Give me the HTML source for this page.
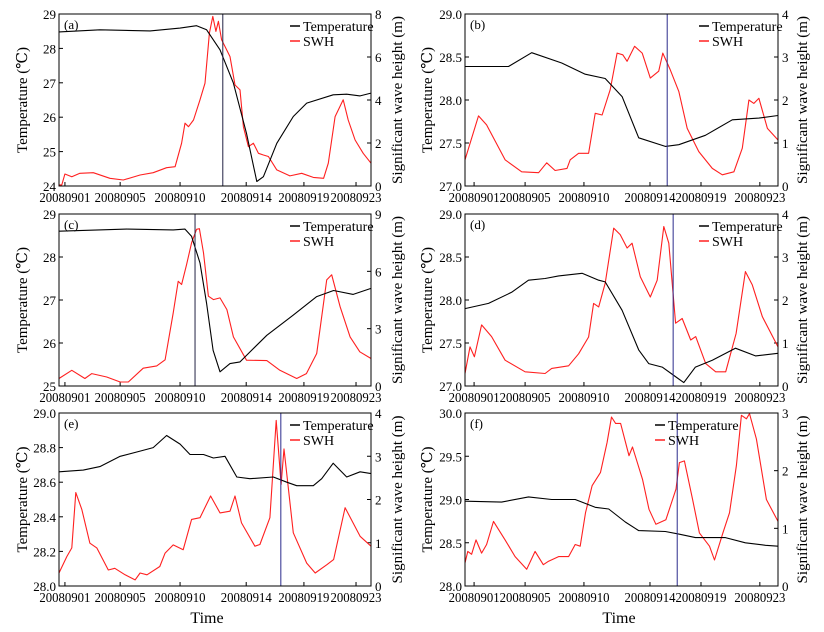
<!DOCTYPE html>
<html><head><meta charset="utf-8">
<style>
body{margin:0;background:#fff;}
svg{display:block;font-family:"Liberation Serif","DejaVu Serif",serif;}
</style></head>
<body>
<svg id="chart" width="824" height="632" viewBox="0 0 824 632"></svg>
<script>
const xTickLabels = ["20080901","20080905","20080910","20080914","20080919","20080923"];
const xTickPosLeft = [1.9,19.6,38.8,60,78.5,95.2];
const xTickPosRight = [2.9,19.2,38,59.1,75.4,94.2];
const panelLetters = ["(a)","(b)","(c)","(d)","(e)","(f)"];
const tempRanges = [[24,29],[27,29],[25,29],[27,29],[28,29],[28,30]];
const tempTicks = [[24,25,26,27,28,29],[27.0,27.5,28.0,28.5,29.0],[25,26,27,28,29],[27.0,27.5,28.0,28.5,29.0],[28.0,28.2,28.4,28.6,28.8,29.0],[28.0,28.5,29.0,29.5,30.0]];
const tempDecimals = [0,1,0,1,1,1];
const swhRanges = [[0,8],[0,4],[0,9],[0,4],[0,4],[0,3]];
const swhTicks = [[0,2,4,6,8],[0,1,2,3,4],[0,3,6,9],[0,1,2,3,4],[0,1,2,3,4],[0,1,2,3]];
const markerTimes = [52.5,64.6,43.6,66.5,71.1,67.8];

const tempA=[[0,28.48],[13.1,28.54],[29.2,28.51],[38.8,28.59],[44.1,28.66],[47.3,28.54],[51.6,27.96],[55.9,26.99],[60.1,25.53],[63.4,24.13],[65.5,24.27],[69.8,25.24],[75.1,26.02],[79.4,26.41],[87.9,26.65],[92.2,26.67],[96.5,26.62],[100,26.7]];
const swhA=[[0,0.05],[0.9,0.05],[1.9,0.56],[4.1,0.43],[6.7,0.59],[11,0.62],[16.3,0.36],[20.6,0.28],[26,0.51],[30.2,0.62],[34.5,0.85],[37.2,0.9],[39.3,1.99],[40.4,2.92],[41.5,2.76],[43.1,3.07],[45.2,4.01],[46.8,4.78],[48.2,7.11],[49.3,7.89],[50.3,7.19],[51.1,7.66],[52.1,6.8],[53.2,6.49],[54.8,6.02],[56.4,4.7],[58,4.47],[59.1,2.76],[60.7,1.83],[62.3,1.99],[63.9,1.52],[65.5,1.44],[67.1,1.37],[69.8,0.75],[74,0.47],[77.8,0.59],[81.5,0.4],[84.8,0.36],[86.3,1.06],[88.5,3.23],[91.1,4.01],[92.7,3.07],[94.9,2.14],[97.5,1.52],[100,1.06]];
const tempB=[[0,28.39],[13.9,28.39],[21.3,28.55],[30.9,28.43],[38.4,28.3],[44.8,28.25],[50.2,28.04],[55.5,27.56],[64,27.46],[68.3,27.48],[76.8,27.59],[85.4,27.77],[93.9,27.79],[100,27.82]];
const swhB=[[0,0.61],[4.3,1.63],[6.9,1.42],[12.8,0.61],[18.1,0.33],[23.5,0.31],[26.1,0.54],[28.8,0.36],[32.6,0.41],[33.6,0.61],[36.3,0.76],[39.5,0.76],[41.6,1.69],[43.8,1.65],[46.4,2.24],[48.6,3.09],[50.4,3.05],[51.8,2.9],[54.2,3.25],[56.6,3.09],[59.2,2.51],[61.9,2.67],[63.2,3.09],[65.6,2.7],[68.3,2.2],[71,1.34],[74.7,0.8],[79,0.41],[82.2,0.26],[85.9,0.33],[88.6,0.88],[90.7,2],[92.3,1.92],[93.9,2.04],[96.6,1.34],[100,1.07]];
const tempC=[[0,28.6],[21.7,28.65],[36.6,28.63],[40.4,28.65],[42.5,28.48],[45.2,27.86],[47.3,26.92],[49.4,25.83],[51.6,25.33],[54.8,25.52],[58,25.56],[61.2,25.79],[66.6,26.18],[75.1,26.65],[82.6,27.08],[88,27.22],[94.3,27.13],[100,27.27]];
const swhC=[[0,0.39],[4.1,0.82],[8.3,0.39],[10.5,0.65],[15.3,0.47],[19.6,0.21],[22.2,0.21],[27,0.93],[31.3,1.05],[34,1.37],[36.6,3.82],[38.2,5.48],[39.3,5.31],[40.9,6.36],[42.5,7.5],[44.1,8.2],[45,8.23],[46.3,6.97],[47.9,4.7],[49.5,4.52],[51.6,4.61],[53.8,4],[55.9,2.57],[60.1,1.35],[66.6,1.33],[70.8,0.82],[76.2,0.39],[79.3,0.65],[82.6,1.7],[85.8,5.55],[87.4,5.82],[90.1,4.15],[93.3,2.57],[96.4,1.79],[100,1.44]];
const tempD=[[0,27.9],[7.5,27.96],[14.9,28.09],[20.3,28.23],[25.6,28.25],[29.9,28.28],[37.4,28.31],[42.7,28.23],[44.8,28.21],[50.2,27.88],[55.5,27.42],[58.7,27.26],[63,27.22],[67.2,27.11],[69.9,27.04],[73.6,27.22],[79,27.3],[86.4,27.44],[92.8,27.35],[100,27.38]];
const swhD=[[0,0.29],[1.6,0.91],[3,0.68],[5.3,1.42],[8.5,1.15],[12.8,0.6],[19.2,0.33],[25.6,0.29],[27.7,0.41],[33.1,0.47],[36.3,0.75],[39.5,1.14],[41.1,1.92],[42.7,1.84],[44.8,2.39],[47.5,3.67],[49.6,3.52],[51.8,3.21],[53.4,3.32],[56,2.54],[59.2,2.07],[61.4,2.46],[63.5,3.71],[65.1,3.32],[67.3,1.46],[69.4,1.57],[72.1,1.07],[73.7,1.15],[76.9,0.52],[80.1,0.33],[83.3,0.33],[86.6,1.22],[89.6,2.66],[91.8,2.35],[95,1.61],[100,0.91]];
const tempE=[[0,28.66],[7.8,28.67],[13.1,28.69],[19.6,28.75],[26,28.78],[30.2,28.8],[34.5,28.87],[38.8,28.82],[42,28.76],[46.3,28.76],[49.5,28.74],[53.2,28.75],[57,28.63],[61.2,28.62],[68.7,28.63],[73,28.6],[76.2,28.58],[81.5,28.58],[84.2,28.62],[87.9,28.71],[92.2,28.63],[96.5,28.66],[100,28.65]];
const swhE=[[0,0.3],[2.5,0.68],[4.1,0.88],[5.4,2.16],[7.3,1.77],[9.9,0.99],[12.1,0.88],[15.8,0.37],[17.9,0.41],[21.2,0.26],[24.4,0.14],[26,0.3],[28.2,0.26],[32.3,0.45],[34,0.76],[36.6,0.95],[39.8,0.84],[42.5,1.54],[45.2,1.58],[48.6,2.08],[51.6,1.69],[54.8,1.73],[56.4,2.08],[58.5,1.46],[62.8,0.92],[64.4,0.96],[67.6,1.58],[69.6,3.83],[71.2,2.35],[72.1,3.17],[75.1,1.23],[79.4,0.53],[82.1,0.3],[85.8,0.49],[88,0.61],[91.7,1.81],[96.5,1.15],[100,0.92]];
const tempF=[[0,28.98],[11.7,28.97],[20.3,29.03],[27.7,29.0],[35.2,29.0],[41.6,28.91],[45.9,28.89],[51.2,28.74],[55.5,28.64],[64,28.63],[68.3,28.6],[73.6,28.56],[83.2,28.56],[89.6,28.5],[96,28.47],[100,28.46]];
const swhF=[[0,0.4],[0.9,0.6],[2.1,0.55],[3.5,0.8],[5.3,0.57],[6.9,0.72],[9.1,1.12],[12.8,0.8],[16,0.51],[19.7,0.29],[22.4,0.6],[25,0.37],[26.7,0.43],[29.9,0.51],[33.1,0.51],[35.2,0.72],[36.8,0.69],[38.5,1.27],[40.6,1.74],[43.3,1.97],[45.4,2.49],[46.8,2.93],[48.1,2.82],[49.7,2.82],[52.4,2.26],[53.5,2.41],[56.7,1.85],[58.8,1.33],[61,1.07],[64.2,1.15],[67.4,1.68],[68.5,2.14],[70.1,2.17],[72.7,1.5],[74.9,0.92],[78.1,0.69],[79.7,0.45],[82.4,0.92],[84.5,1.27],[86.7,2.09],[88.3,2.96],[89.9,2.9],[90.9,2.99],[93.1,2.55],[96.3,1.5],[100,1.12]];
const tempSeries=[tempA,tempB,tempC,tempD,tempE,tempF];
const swhSeries=[swhA,swhB,swhC,swhD,swhE,swhF];

const boxes=[[59,14,371,186],[465,14,778,186],[59,214,371,386],[465,214,778,386],[59,413,371,586],[465,413,778,586]];
const markerColors=["#222244","#2b2b8c","#222244","#2b2b8c","#2b2b8c","#2b2b8c"];
const legendX=[290,699,290,699,290,655];
const NS="http://www.w3.org/2000/svg";
const svg=document.getElementById('chart');
function mk(tag,attrs,parent){const e=document.createElementNS(NS,tag);for(const k in attrs)e.setAttribute(k,attrs[k]);(parent||svg).appendChild(e);return e;}

boxes.forEach((b,i)=>{
  const [x0,y0,x1,y1]=b;
  const g=mk('g',{});
  
  
  const xs=t=>x0+(x1-x0)*t/100;
  const yT=v=>y1-(y1-y0)*(v-tempRanges[i][0])/(tempRanges[i][1]-tempRanges[i][0]);
  const yS=v=>y1-(y1-y0)*(v-swhRanges[i][0])/(swhRanges[i][1]-swhRanges[i][0]);
  const right=i%2===1;
  const xpos=right?xTickPosRight:xTickPosLeft;
  xpos.forEach((p,k)=>{
    const x=xs(p);
    mk('line',{x1:x,x2:x,y1:y1,y2:y1-4,stroke:'#000','stroke-width':1},g);
    const t=mk('text',{x:x,y:y1+16,'text-anchor':'middle','font-size':14,textLength:51,lengthAdjust:'spacingAndGlyphs'},g);
    t.textContent=xTickLabels[k];
    
    
  });
  tempTicks[i].forEach(v=>{
    const y=yT(v);
    mk('line',{x1:x0,x2:x0+4,y1:y,y2:y,stroke:'#000'},g);
    const t=mk('text',{x:x0-3,y:y+5,'text-anchor':'end','font-size':13},g);
    t.textContent=v.toFixed(tempDecimals[i]);
    
    
  });
  swhTicks[i].forEach(v=>{
    const y=yS(v);
    mk('line',{x1:x1,x2:x1-4,y1:y,y2:y,stroke:'#000'},g);
    const t=mk('text',{x:x1+4,y:y+5,'text-anchor':'start','font-size':13},g);
    t.textContent=String(v);
    
    
  });
  const lx=right?427:22, rx=right?802:397, cy=(y0+y1)/2;
  const lt=mk('text',{x:lx,y:cy,'text-anchor':'middle','font-size':15,transform:`rotate(-90 ${lx} ${cy})`,dy:5},g);
  lt.textContent='Temperature (℃)';
  
  
  const rt=mk('text',{x:rx,y:cy,'text-anchor':'middle','font-size':15,transform:`rotate(-90 ${rx} ${cy})`,dy:5},g);
  rt.textContent='Significant wave height (m)';
  
  
  const path=(d,f)=>d.map((p,k)=>(k?'L':'M')+xs(p[0]).toFixed(1)+','+f(p[1]).toFixed(1)).join('');
  const sp=mk('path',{d:path(swhSeries[i],yS),fill:'none',stroke:'#ff2020','stroke-width':1.1,'stroke-linejoin':'round'},g);
  
  
  const tp=mk('path',{d:path(tempSeries[i],yT),fill:'none',stroke:'#000','stroke-width':1.1,'stroke-linejoin':'round'},g);
  
  
  const mx=xs(markerTimes[i]);
  const ml=mk('line',{x1:mx,x2:mx,y1:y0,y2:y1,stroke:markerColors[i],'stroke-width':1},g);
  
  
  const fr=mk('rect',{x:x0,y:y0,width:x1-x0,height:y1-y0,fill:'none',stroke:'#000','stroke-width':1},g);
  
  
  const pl=mk('text',{x:x0+5,y:y0+15,'font-size':13},g);
  pl.textContent=panelLetters[i];
  
  
  const lgx=legendX[i];
  const lg=mk('g',{},g);
  
  
  mk('line',{x1:lgx,x2:lgx+10,y1:y0+12,y2:y0+12,stroke:'#000','stroke-width':1.5},lg);
  const l1=mk('text',{x:lgx+13,y:y0+17,'font-size':14},lg);
  l1.textContent='Temperature';
  
  
  mk('line',{x1:lgx,x2:lgx+10,y1:y0+27,y2:y0+27,stroke:'#ff2020','stroke-width':1.5},lg);
  const l2=mk('text',{x:lgx+13,y:y0+32,'font-size':14},lg);
  l2.textContent='SWH';
  
  
});
[[207,623],[619,623]].forEach(p=>{
  const t=mk('text',{x:p[0],y:p[1],'text-anchor':'middle','font-size':16});
  t.textContent='Time';
  
  
});
</script>
</body></html>
